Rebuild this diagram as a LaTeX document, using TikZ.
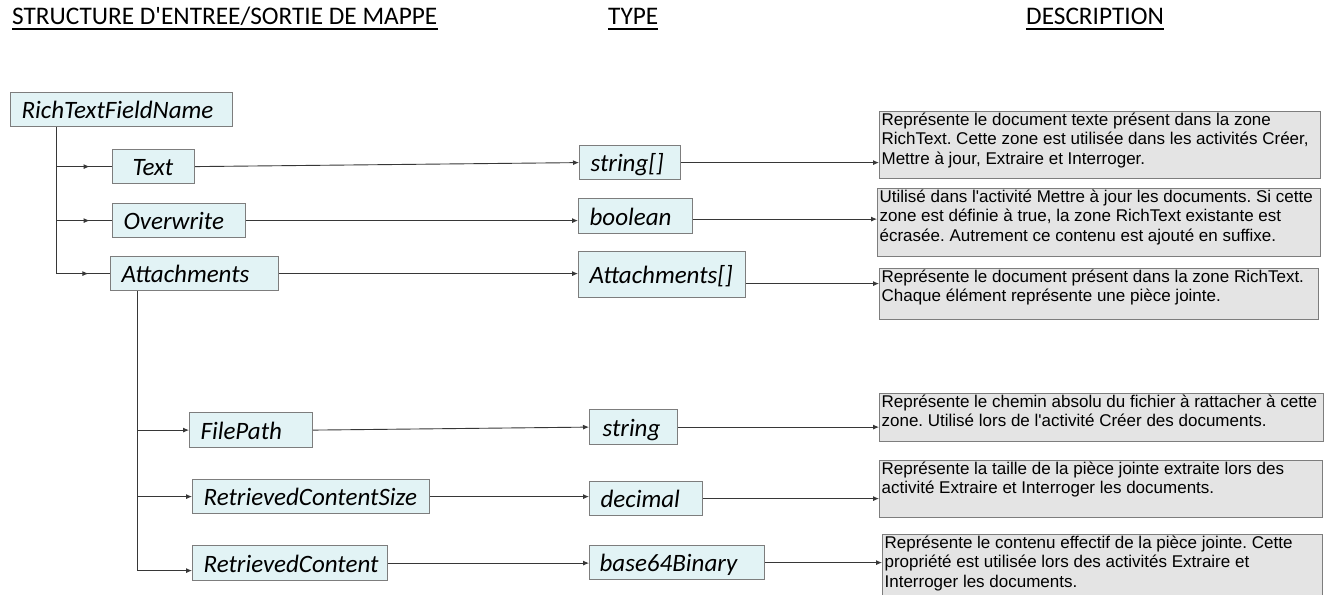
\documentclass[tikz,border=0pt]{standalone}
\usepackage{fontspec}
\usetikzlibrary{arrows.meta,decorations.markings}
\newfontfamily\namefont{Carlito}[Ligatures=TeXOff]
\newfontfamily\descfont{Liberation Sans}[Ligatures=TeXOff]
\definecolor{namefill}{RGB}{226,243,245}
\definecolor{descfill}{RGB}{228,228,228}
\definecolor{boxline}{RGB}{125,125,125}
\definecolor{conline}{RGB}{55,55,55}
\newcommand\desctext[3]{\parbox[c][#2][t]{#1}{\frenchspacing\raggedright\leftskip=2pt\relax\vspace*{1pt}#3}}
\tikzset{
  nb/.style={draw=boxline, line width=1.2pt, fill=namefill, anchor=north west,
    inner xsep=11pt, inner ysep=0pt, align=left, text height=22pt, text depth=4pt,
    font=\namefont\itshape\fontsize{25}{28}\selectfont},
  db/.style={draw=boxline, line width=1.2pt, fill=descfill, anchor=north west,
    inner sep=0pt, font=\descfont\fontsize{17}{19.5}\selectfont},
  hd/.style={anchor=base west, inner sep=0pt, font=\namefont\fontsize{25.3}{28}\selectfont},
  ul/.style={line width=1.2pt, black},
  con/.style={draw=conline, line width=0.9pt},
  arr/.style={con, -{Latex[length=6pt,width=5pt]}},
  midarr/.style={con, postaction={decorate},
    decoration={markings, mark=at position 0.6 with {\arrow{Latex[length=6pt,width=5pt]}}}}
}
\begin{document}
\begin{tikzpicture}[x=1pt,y=-1pt]
\useasboundingbox (0,0) rectangle (1332,594);
\clip (0,0) rectangle (1332,594);
\fill[white] (0,0) rectangle (1332,594);
% headings
\node[hd] (h1) at (12,25) {STRUCTURE D'ENTREE/SORTIE DE MAPPE};
\node[hd] (h2) at (608,25) {TYPE};
\node[hd] (h3) at (1026,25) {DESCRIPTION};
\foreach \h in {h1,h2,h3}{\draw[ul] ([yshift=-4pt]\h.base west) -- ([yshift=-4pt]\h.base east);}
% name boxes
\node[nb, minimum width=222pt, text width=200pt, minimum height=34pt] (rtfn) at (10,92) {RichTextFieldName};
\node[nb, inner xsep=20pt, minimum width=82pt, text width=42pt, minimum height=34pt] (text) at (112,149) {Text};
\node[nb, minimum width=133pt, text width=111pt, minimum height=34pt] (overwrite) at (112,203) {Overwrite};
\node[nb, minimum width=168pt, text width=146pt, minimum height=34pt] (attach) at (110,256) {Attachments};
\node[nb, minimum width=123pt, text width=101pt, minimum height=35pt] (filepath) at (189,412) {FilePath};
\node[nb, minimum width=237pt, text width=215pt, minimum height=34pt] (rcsize) at (192,479) {RetrievedContentSize};
\node[nb, minimum width=195pt, text width=173pt, minimum height=35pt] (rcontent) at (192,545) {RetrievedContent};
% type boxes
\node[nb, minimum width=101pt, text width=79pt, minimum height=34pt] (strarr) at (579,145) {string[]};
\node[nb, minimum width=114pt, text width=92pt, minimum height=35pt] (boolean) at (578,198) {boolean};
\node[nb, minimum width=167pt, text width=145pt, minimum height=46pt] (attarr) at (578,251) {Attachments[]};
\node[nb, inner xsep=13pt, minimum width=88pt, text width=62pt, minimum height=35pt] (string) at (589,409) {string};
\node[nb, minimum width=113pt, text width=91pt, minimum height=34pt] (decimal) at (589,481) {decimal};
\node[nb, inner xsep=10pt, minimum width=175pt, text width=155pt, minimum height=34pt] (b64) at (589,545) {base64Binary};
% description boxes
\node[db] (d1) at (879,111) {\desctext{441pt}{67pt}{Représente le document texte présent dans la zone\\RichText. Cette zone est utilisée dans les activités Créer,\\Mettre à jour, Extraire et Interroger.}};
\node[db] (d2) at (877,188) {\desctext{443pt}{68pt}{Utilisé dans l'activité Mettre à jour les documents. Si cette\\zone est définie à true, la zone RichText existante est\\écrasée. Autrement ce contenu est ajouté en suffixe.}};
\node[db] (d3) at (879,268) {\desctext{439pt}{51pt}{Représente le document présent dans la zone RichText.\\Chaque élément représente une pièce jointe.}};
\node[db] (d4) at (879,393) {\desctext{444pt}{48pt}{Représente le chemin absolu du fichier à rattacher à cette\\zone. Utilisé lors de l'activité Créer des documents.}};
\node[db] (d5) at (879,460) {\desctext{443pt}{57pt}{Représente la taille de la pièce jointe extraite lors des\\activité Extraire et Interroger les documents.}};
\node[db] (d6) at (882,534) {\desctext{440pt}{72pt}{Représente le contenu effectif de la pièce jointe. Cette\\propriété est utilisée lors des activités Extraire et\\Interroger les documents.}};
% first-level tree
\coordinate (t0) at ([xshift=46pt]rtfn.south west);
\draw[con] (t0) -- (t0 |- attach.west);
\draw[midarr] (t0 |- text.west) -- (text.west);
\draw[midarr] (t0 |- overwrite.west) -- (overwrite.west);
\draw[midarr] (t0 |- attach.west) -- (attach.west);
% second-level tree
\coordinate (t1) at ([xshift=27pt]attach.south west);
\draw[arr] (t1) |- ([yshift=-7.5pt]rcontent.west);
\draw[arr] (t1 |- filepath.west) -- (filepath.west);
\draw[arr] (t1 |- rcsize.west) -- (rcsize.west);
% name -> type
\draw[arr] (text.east) -- (strarr.west);
\draw[arr] (overwrite.east) -- (overwrite.east -| boolean.west);
\draw[arr] (attach.east) -- (attach.east -| attarr.west);
\draw[arr] (filepath.east) -- (string.west);
\draw[arr] (rcsize.east) -- (rcsize.east -| decimal.west);
\draw[arr] (rcontent.east) -- (rcontent.east -| b64.west);
% type -> description
\draw[arr] (strarr.east) -- (strarr.east -| d1.west);
\draw[arr] ([yshift=-3pt]boolean.east) -- ([yshift=-3pt]boolean.east -| d2.west);
\draw[arr] ([yshift=-9pt]attarr.east) -- ([yshift=-9pt]attarr.east -| d3.west);
\draw[arr] (string.east) -- (string.east -| d4.west);
\draw[arr] (decimal.east) -- (decimal.east -| d5.west);
\draw[arr] (b64.east) -- (b64.east -| d6.west);
\end{tikzpicture}
\end{document}
